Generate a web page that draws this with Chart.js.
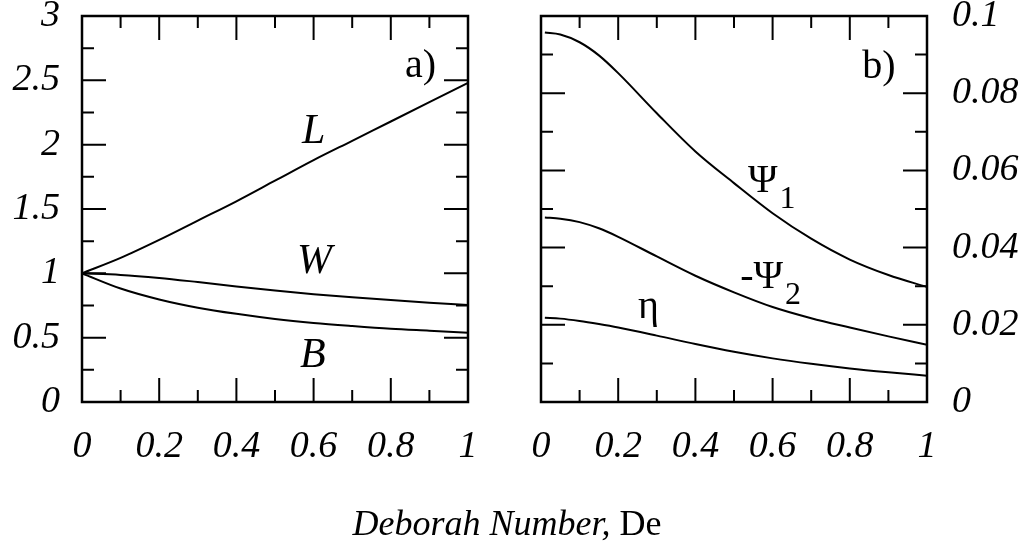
<!DOCTYPE html>
<html>
<head>
<meta charset="utf-8">
<script src="https://cdn.jsdelivr.net/npm/chart.js@4.4.1/dist/chart.umd.min.js"></script>
<style>
  body { margin: 0; background: #fff; width: 1032px; height: 546px; position: relative; overflow: hidden; }
  #leftBox { position: absolute; left: 0; top: 0; width: 505px; height: 546px; }
  #rightBox { position: absolute; left: 505px; top: 0; width: 527px; height: 546px; }
  #xTitle { position: absolute; left: 0; width: 1014px; top: 503px; line-height: 40px; text-align: center;
            font-family: "Liberation Serif", "Times New Roman", serif; font-size: 36px; color: #000; }
</style>
</head>
<body>
<div id="leftBox"><canvas id="left" width="505" height="546"></canvas></div>
<div id="rightBox"><canvas id="right" width="527" height="546"></canvas></div>
<div id="xTitle"><i>Deborah Number,</i> De</div>
<script>
// dimensionless cell size vs Deborah number (panel a)
var deA = [0, 0.1, 0.2, 0.3, 0.4, 0.5, 0.6, 0.7, 0.8, 0.9, 1];
var lenL = [1.00, 1.12, 1.26, 1.41, 1.56, 1.72, 1.88, 2.03, 2.18, 2.33, 2.48];
var widW = [1.00, 0.988, 0.964, 0.932, 0.898, 0.866, 0.838, 0.814, 0.792, 0.772, 0.754];
var brdB = [1.00, 0.882, 0.797, 0.733, 0.685, 0.645, 0.614, 0.590, 0.569, 0.554, 0.539];

// material functions vs Deborah number (panel b)
var deB = [0.01, 0.05, 0.1, 0.15, 0.2, 0.3, 0.4, 0.5, 0.6, 0.7, 0.8, 0.9, 1];
var psi1 = [0.0957, 0.0952, 0.0932, 0.0898, 0.0852, 0.0748, 0.0649, 0.0567, 0.0489, 0.0423, 0.0369, 0.0329, 0.0298];
var psi2 = [0.0478, 0.0475, 0.0466, 0.0450, 0.0428, 0.0377, 0.0327, 0.0284, 0.0246, 0.0217, 0.0193, 0.0170, 0.0148];
var eta  = [0.0218, 0.0216, 0.0210, 0.0202, 0.0193, 0.0172, 0.0150, 0.0130, 0.0113, 0.0099, 0.0087, 0.0077, 0.0068];

// tick values
var xTicks = [0, 0.2, 0.4, 0.6, 0.8, 1];
var yTicksA = [0, 0.5, 1, 1.5, 2, 2.5, 3];
var yTicksB = [0, 0.02, 0.04, 0.06, 0.08, 0.1];

var serif = '"Liberation Serif", "Times New Roman", serif';
var tickFont = { family: serif, size: 38, style: 'italic' };

function pts(xs, ys) {
  return xs.map(function(x, i) { return { x: x, y: ys[i] }; });
}

function fixTicks(vals) {
  return function(s) { s.ticks = vals.map(function(v) { return { value: v }; }); };
}

function noPad(size, key) {
  return function(s) {
    s[key] = size;
    s.paddingTop = 0; s.paddingBottom = 0; s.paddingLeft = 0; s.paddingRight = 0;
  };
}

// 3 -> "3", 0.1 -> "0.1"
function plainNum(v) {
  return String(+Number(v).toFixed(3));
}

// box around the plot with inward major/minor ticks on all four sides
var frameTicks = {
  id: 'frameTicks',
  afterDatasetsDraw: function(chart) {
    var ctx = chart.ctx, a = chart.chartArea;
    var x = chart.scales.x, y = chart.scales.y;
    ctx.save();
    ctx.strokeStyle = '#000';
    ctx.lineWidth = 2;
    ctx.beginPath();
    function xMark(v, len) {
      var p = x.getPixelForValue(v);
      ctx.moveTo(p, a.bottom); ctx.lineTo(p, a.bottom - len);
      ctx.moveTo(p, a.top); ctx.lineTo(p, a.top + len);
    }
    function yMark(v, len) {
      var p = y.getPixelForValue(v);
      ctx.moveTo(a.left, p); ctx.lineTo(a.left + len, p);
      ctx.moveTo(a.right, p); ctx.lineTo(a.right - len, p);
    }
    var xs = x.ticks.map(function(t) { return t.value; });
    var ys = y.ticks.map(function(t) { return t.value; });
    xs.forEach(function(v, i) {
      xMark(v, 24);
      if (i > 0) xMark((v + xs[i - 1]) / 2, 12);
    });
    ys.forEach(function(v, i) {
      yMark(v, 24);
      if (i > 0) yMark((v + ys[i - 1]) / 2, 12);
    });
    ctx.stroke();
    ctx.lineWidth = 2.5;
    ctx.strokeRect(a.left, a.top, a.right - a.left, a.bottom - a.top);
    ctx.restore();
  }
};

// curve labels placed in data coordinates (left edge, baseline)
var curveLabels = {
  id: 'curveLabels',
  afterDraw: function(chart, args, opts) {
    var ctx = chart.ctx, x = chart.scales.x, y = chart.scales.y;
    ctx.save();
    ctx.fillStyle = '#000';
    ctx.textBaseline = 'alphabetic';
    ctx.textAlign = 'left';
    (opts.items || []).forEach(function(it) {
      var px = x.getPixelForValue(it.x), py = y.getPixelForValue(it.y);
      ctx.font = (it.italic ? 'italic ' : '') + it.size + 'px ' + serif;
      ctx.fillText(it.text, px, py);
      if (it.sub) {
        var w = ctx.measureText(it.text).width;
        ctx.font = it.subSize + 'px ' + serif;
        ctx.fillText(it.sub, px + w + 2, py + it.subDrop);
      }
    });
    ctx.restore();
  }
};

function lineSet(data) {
  return { data: data, borderColor: '#000', borderWidth: 2, pointRadius: 0,
           cubicInterpolationMode: 'monotone', fill: false };
}

function baseOptions(padding, yPos, yWidth, yPad, yTicks, yMax, labels) {
  return {
    responsive: false,
    animation: false,
    events: [],
    layout: { padding: padding },
    plugins: { legend: { display: false }, tooltip: { enabled: false }, curveLabels: { items: labels } },
    scales: {
      x: {
        type: 'linear', min: 0, max: 1,
        afterBuildTicks: fixTicks(xTicks),
        afterFit: noPad(100, 'height'),
        grid: { display: false }, border: { display: false },
        ticks: { font: tickFont, color: '#000', padding: 14, maxRotation: 0, callback: plainNum }
      },
      y: {
        type: 'linear', position: yPos, min: 0, max: yMax,
        afterBuildTicks: fixTicks(yTicks),
        afterFit: noPad(yWidth, 'width'),
        grid: { display: false }, border: { display: false },
        ticks: { font: tickFont, color: '#000', padding: yPad, callback: plainNum }
      }
    }
  };
}

new Chart(document.getElementById('left'), {
  type: 'line',
  data: { datasets: [lineSet(pts(deA, lenL)), lineSet(pts(deA, widW)), lineSet(pts(deA, brdB))] },
  options: baseOptions({ top: 16, left: 0, right: 37, bottom: 44 }, 'left', 82, 14, yTicksA, 3, [
    { text: 'a)', x: 0.837, y: 2.525, size: 40 },
    { text: 'L', x: 0.570, y: 2.012, size: 42, italic: true },
    { text: 'W', x: 0.557, y: 1.002, size: 42, italic: true },
    { text: 'B', x: 0.565, y: 0.272, size: 42, italic: true }
  ]),
  plugins: [frameTicks, curveLabels]
});

new Chart(document.getElementById('right'), {
  type: 'line',
  data: { datasets: [lineSet(pts(deB, psi1)), lineSet(pts(deB, psi2)), lineSet(pts(deB, eta))] },
  options: baseOptions({ top: 16, left: 36, right: 0, bottom: 44 }, 'right', 105, 17, yTicksB, 0.1, [
    { text: 'b)', x: 0.832, y: 0.0839, size: 40 },
    { text: '\u03A8', x: 0.536, y: 0.0544, size: 40, sub: '1', subSize: 32, subDrop: 16 },
    { text: '-\u03A8', x: 0.516, y: 0.0295, size: 40, sub: '2', subSize: 32, subDrop: 16 },
    { text: '\u03B7', x: 0.251, y: 0.0218, size: 40 }
  ]),
  plugins: [frameTicks, curveLabels]
});
</script>
</body>
</html>
